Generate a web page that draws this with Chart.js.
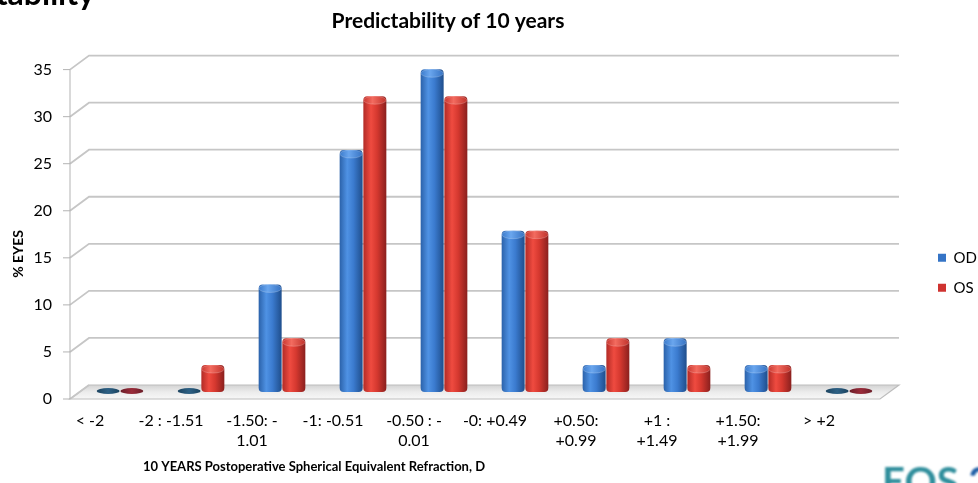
<!DOCTYPE html>
<html>
<head>
<meta charset="utf-8">
<script src="https://cdn.jsdelivr.net/npm/chart.js@4/dist/chart.umd.min.js"></script>
<style>
  html, body { margin: 0; padding: 0; background: #ffffff; }
  #wrap { width: 978px; height: 483px; position: relative; overflow: hidden; }
  canvas { display: block; }
</style>
</head>
<body>
<div id="wrap"><canvas id="chart" width="978" height="483"></canvas></div>
<script>
// ---- data ----
const categories = [
  ['< -2'], ['-2 : -1.51'], ['-1.50: -', '1.01'], ['-1: -0.51'], ['-0.50 : -', '0.01'],
  ['-0: +0.49'], ['+0.50:', '+0.99'], ['+1 :', '+1.49'], ['+1.50:', '+1.99'], ['> +2']
];
const seriesNames = ['OD', 'OS'];
const odValues = [0, 0, 11.43, 25.71, 34.29, 17.14, 2.86, 5.71, 2.86, 0];
const osValues = [0, 2.86, 5.71, 31.43, 31.43, 17.14, 5.71, 2.86, 2.86, 0];
const yMin = 0, yMax = 35, yStep = 5;

const chartTitle = 'Predictability of 10 years';
const xTitle = '10 YEARS Postoperative Spherical Equivalent Refraction, D';
const yTitle = '% EYES';
const slideHeading = 'Predictability';
const logoWord = 'EOS';
const logoYear = '20';

// ---- look ----
const FONT = 'Lato, "Open Sans", sans-serif';
const DX = 9.5;   // horizontal depth of the 3-D box (half)
const DY = 7;     // vertical depth of the 3-D box (half)
const CATEGORY_PCT = 0.585;
const BAR_PCT = 0.97;
const BODY_STOPS = [0, 0.33, 0.6, 1];
const palettes = [
  { body: ['#2b62aa', '#4f92e4', '#3b7bcf', '#1f4e8c'], cap: ['#3a7acb', '#6aa6ee', '#3672c2'], flat: '#3574c6', disc: ['#1b435f', '#2e6185'] },
  { body: ['#b22b26', '#ef4b40', '#d5382f', '#8a201e'], cap: ['#c9362f', '#f36b5f', '#bf322b'], flat: '#cf3330', disc: ['#6a1d28', '#9a2c3a'] }
];

// horizontal shading across one cylinder, placed from the category scale
function bodyFill(c) {
  const pal = palettes[c.datasetIndex];
  if (c.type !== 'data') return pal.flat;
  const chart = c.chart;
  const xs = chart.scales.x;
  if (!xs || !chart.chartArea) return pal.flat;
  const slotW = (xs.right - xs.left) / categories.length * CATEGORY_PCT / 2;
  const cx = xs.getPixelForValue(c.dataIndex) + (c.datasetIndex - 0.5) * slotW;
  const half = slotW * BAR_PCT / 2;
  const g = chart.ctx.createLinearGradient(cx - half, 0, cx + half, 0);
  pal.body.forEach((col, k) => g.addColorStop(BODY_STOPS[k], col));
  return g;
}

// floor, back wall grid, side wall connectors and front value axis
const stage3d = {
  id: 'stage3d',
  beforeDatasetsDraw(chart) {
    const { ctx } = chart;
    const xs = chart.scales.x, ys = chart.scales.y;
    const L = xs.left, R = xs.right;
    const y0 = ys.getPixelForValue(yMin);
    ctx.save();
    // floor slab
    ctx.beginPath();
    ctx.moveTo(L - DX, y0 + DY);
    ctx.lineTo(R - DX, y0 + DY);
    ctx.lineTo(R + DX, y0 - DY);
    ctx.lineTo(L + DX, y0 - DY);
    ctx.closePath();
    const fg = ctx.createLinearGradient(0, y0 - DY, 0, y0 + DY);
    fg.addColorStop(0, '#d3d3d3');
    fg.addColorStop(0.5, '#ececec');
    fg.addColorStop(1, '#f7f7f7');
    ctx.fillStyle = fg;
    ctx.fill();
    ctx.lineWidth = 1.2;
    ctx.strokeStyle = '#bdbdbd';
    ctx.stroke();
    // grid lines on back and side walls
    ys.ticks.forEach(t => {
      const y = ys.getPixelForValue(t.value);
      ctx.lineWidth = 1.8;
      ctx.strokeStyle = '#c6c6c6';
      ctx.beginPath();
      ctx.moveTo(L - DX, y + DY);
      ctx.lineTo(L + DX, y - DY);
      if (t.value !== yMin) ctx.lineTo(R + DX, y - DY);
      ctx.stroke();
      // tick mark on the front axis
      ctx.lineWidth = 1;
      ctx.strokeStyle = '#b3b3b3';
      ctx.beginPath();
      ctx.moveTo(L - DX - 7, y + DY);
      ctx.lineTo(L - DX, y + DY);
      ctx.stroke();
    });
    // front value axis line
    ctx.lineWidth = 1;
    ctx.strokeStyle = '#b3b3b3';
    ctx.beginPath();
    ctx.moveTo(L - DX, ys.getPixelForValue(yMax) + DY);
    ctx.lineTo(L - DX, y0 + DY);
    ctx.stroke();
    ctx.restore();
  }
};

// elliptical caps turning each bar into a cylinder
const cylinderCaps = {
  id: 'cylinderCaps',
  afterDatasetsDraw(chart) {
    const { ctx } = chart;
    chart.data.datasets.forEach((ds, di) => {
      const pal = palettes[di];
      const meta = chart.getDatasetMeta(di);
      meta.data.forEach((el) => {
        const { x, y, base, width } = el.getProps(['x', 'y', 'base', 'width'], true);
        const rx = width / 2;
        ctx.save();
        if (Math.abs(base - y) < 1) {
          const g = ctx.createLinearGradient(x - rx, 0, x + rx, 0);
          g.addColorStop(0, pal.disc[0]);
          g.addColorStop(0.5, pal.disc[1]);
          g.addColorStop(1, pal.disc[0]);
          ctx.fillStyle = g;
          ctx.beginPath();
          ctx.ellipse(x, base - 1, rx, 3, 0, 0, Math.PI * 2);
          ctx.fill();
        } else {
          const ry = 4;
          const g = ctx.createLinearGradient(x - rx, 0, x + rx, 0);
          g.addColorStop(0, pal.cap[0]);
          g.addColorStop(0.4, pal.cap[1]);
          g.addColorStop(1, pal.cap[2]);
          ctx.fillStyle = g;
          ctx.beginPath();
          ctx.ellipse(x, y + ry, rx - 0.3, ry, 0, 0, Math.PI * 2);
          ctx.fill();
          ctx.lineWidth = 0.8;
          ctx.strokeStyle = 'rgba(255,255,255,0.25)';
          ctx.stroke();
        }
        ctx.restore();
      });
    });
  }
};

// titles, slide heading and logo text
const chartTexts = {
  id: 'chartTexts',
  afterDraw(chart) {
    const { ctx } = chart;
    ctx.save();
    ctx.fillStyle = '#000000';
    ctx.textBaseline = 'middle';
    ctx.textAlign = 'center';
    ctx.font = 'bold 21px ' + FONT;
    ctx.fillText(chartTitle, 448, 21);
    ctx.font = 'bold 13px ' + FONT;
    ctx.fillText(xTitle, 314, 467);
    ctx.font = 'bold 14px ' + FONT;
    ctx.save();
    ctx.translate(18, 254);
    ctx.rotate(-Math.PI / 2);
    ctx.fillText(yTitle, 0, 0);
    ctx.restore();
    // slide heading running off the top edge
    ctx.textAlign = 'right';
    ctx.textBaseline = 'alphabetic';
    ctx.font = 'bold 32px ' + FONT;
    ctx.fillText(slideHeading, 95, 5);
    // congress logo running off the bottom-right corner
    ctx.filter = 'blur(0.8px)';
    ctx.textAlign = 'left';
    ctx.font = 'bold 40px ' + FONT;
    ctx.fillStyle = '#2f8e9c';
    ctx.fillText(logoWord, 882, 496);
    const w = ctx.measureText(logoWord + ' ').width;
    ctx.fillStyle = '#1f5fa6';
    ctx.fillText(logoYear, 882 + w, 496);
    ctx.restore();
  }
};

new Chart(document.getElementById('chart'), {
  type: 'bar',
  data: {
    labels: categories,
    datasets: [
      { label: seriesNames[0], data: odValues, backgroundColor: bodyFill },
      { label: seriesNames[1], data: osValues, backgroundColor: bodyFill }
    ]
  },
  options: {
    responsive: false,
    devicePixelRatio: 1,
    animation: false,
    events: [],
    layout: { padding: { top: 62.6, left: 0, right: 0, bottom: 0 } },
    datasets: {
      bar: {
        categoryPercentage: CATEGORY_PCT,
        barPercentage: BAR_PCT,
        borderWidth: 0,
        borderRadius: 4,
        borderSkipped: false
      }
    },
    scales: {
      x: {
        grid: { display: false, drawTicks: false },
        border: { display: false },
        ticks: {
          autoSkip: false, maxRotation: 0, minRotation: 0,
          labelOffset: -30, padding: 19,
          color: '#000000',
          font: { family: FONT, size: 16, lineHeight: 1.25 }
        },
        afterFit: s => { s.height = 91; }
      },
      y: {
        min: yMin, max: yMax,
        grid: { display: false, drawTicks: false },
        border: { display: false },
        ticks: {
          stepSize: yStep, labelOffset: DY, padding: 27.5,
          color: '#000000',
          font: { family: FONT, size: 16 }
        },
        afterFit: s => { s.width = 79.5; }
      },
      gap: {
        type: 'linear', position: 'right', display: true,
        grid: { display: false, drawTicks: false },
        border: { display: false },
        ticks: { display: false },
        afterFit: s => { s.width = 33.5; }
      }
    },
    plugins: {
      colors: { enabled: false },
      title: { display: false },
      tooltip: { enabled: false },
      legend: {
        position: 'right',
        align: 'center',
        maxWidth: 55,
        labels: {
          boxWidth: 8, boxHeight: 8, padding: 15,
          color: '#000000',
          font: { family: FONT, size: 15 },
          generateLabels: chart => Chart.defaults.plugins.legend.labels.generateLabels(chart).map((item, k) => ({
            ...item, fillStyle: palettes[k].flat, strokeStyle: palettes[k].flat, lineWidth: 0
          }))
        }
      }
    }
  },
  plugins: [stage3d, cylinderCaps, chartTexts]
});
</script>
</body>
</html>
